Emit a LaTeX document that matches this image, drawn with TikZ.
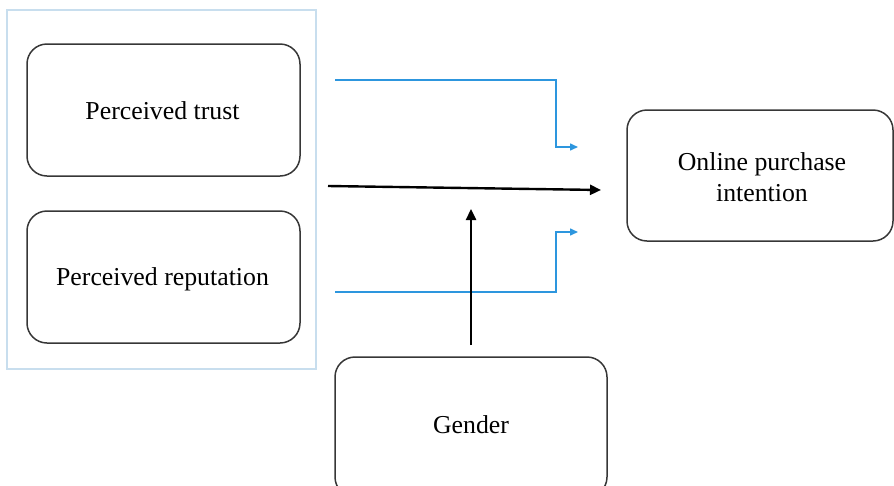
\documentclass[tikz,border=0pt]{standalone}
\usepackage{fontspec}
\setmainfont{Liberation Serif}
\usetikzlibrary{arrows.meta}
\definecolor{framegray}{RGB}{55,55,55}
\definecolor{groupblue}{RGB}{200,222,238}
\definecolor{linkblue}{RGB}{45,150,222}
\begin{document}
\begin{tikzpicture}[x=1pt,y=-1pt,
  varbox/.style={draw=framegray, line width=1.5pt, rounded corners=20pt,
    inner sep=0pt},
  label/.style={align=center, font=\fontsize{25.8}{31}\selectfont, inner sep=0pt},
  groupbox/.style={draw=groupblue, line width=2pt, inner sep=0pt},
  bluelink/.style={draw=linkblue, line width=1.5pt,
    -{Triangle[length=8pt,width=7pt]}},
  mainlink/.style={draw=black, line width=2.4pt,
    -{Triangle[length=11pt,width=10pt]}}]
\useasboundingbox (0,0) rectangle (894,485);
\clip (0,0) rectangle (894,485);

% grouping frame around the two predictors
\node[groupbox, minimum width=309pt, minimum height=359pt] (group) at (161.5,189.5) {};

% variables
\node[varbox, minimum width=273pt, minimum height=132pt] (trust) at (163.5,110) {};
\node[varbox, minimum width=273pt, minimum height=132pt] (repu) at (163.5,277) {};
\node[varbox, minimum width=266pt, minimum height=131pt] (opi) at (760,175.5) {};
\node[varbox, minimum width=272pt, minimum height=140pt] (gender) at (471,427) {};

\node[label] (trusttext) at (162.5,111) {Perceived trust};
\node[label] (reputext) at (162.5,279) {Perceived reputation};
\node[label] (opitext) at (762,177) {Online purchase\\intention};
\node[label] (gendertext) at (471,425) {Gender};

% connector end points
\coordinate (t0) at (335,80);
\coordinate (t1) at (556,147);
\coordinate (t2) at (578,147);
\coordinate (r0) at (335,292);
\coordinate (r1) at (556,232);
\coordinate (r2) at (578,232);
\coordinate (m0) at (328,186);
\coordinate (m1) at (601,190);
\coordinate (g0) at (471,345);
\coordinate (g1) at (471,209);

% blue paths
\draw[bluelink] (t0) -| (t1) -- (t2);
\draw[bluelink] (r0) -| (r1) -- (r2);

% main effect and moderator
\draw[mainlink] (m0) -- (m1);
\draw[mainlink] (g0) -- (g1);
\end{tikzpicture}
\end{document}
